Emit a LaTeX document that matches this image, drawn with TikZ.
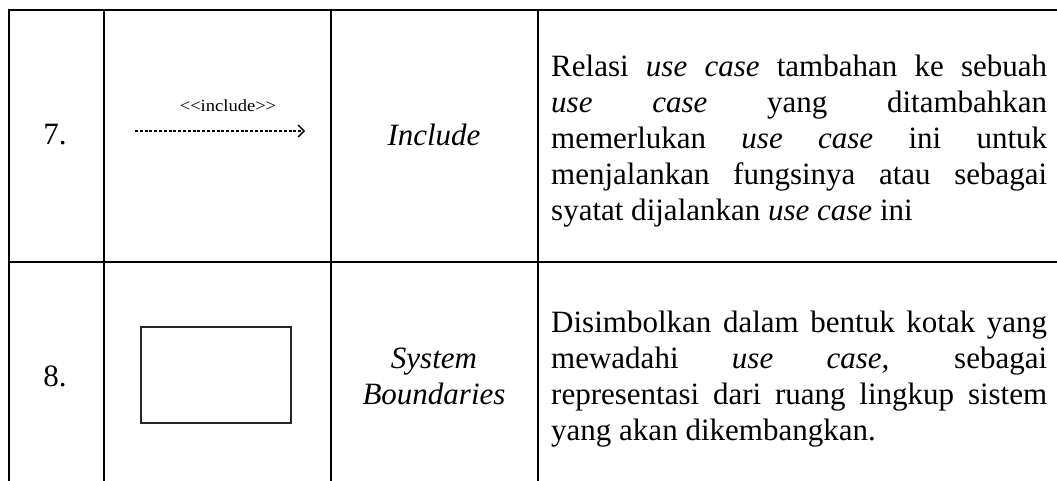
\documentclass[tikz,border=0pt]{standalone}
\usepackage{fontspec}
\setmainfont{Liberation Serif}
\newfontfamily\stereofont[Ligatures=TeXOff]{Liberation Serif}
\usetikzlibrary{arrows.meta}
\hyphenpenalty=10000
\begin{document}
\begin{tikzpicture}[x=1pt,y=-1pt,
  rule/.style={line width=2pt, black},
  cell/.style={anchor=base, inner sep=0pt, font=\fontsize{31}{36}\selectfont},
  body/.style={anchor=base west, inner sep=0pt, text width=496pt, align=justify,
               font=\fontsize{31}{36}\selectfont},
  depline/.style={line width=1.3pt, dash pattern=on 3pt off 1.8pt,
                  -{Straight Barb[length=6pt,width=12pt,line width=1.3pt]}},
  stereo/.style={anchor=base, inner sep=0pt, font=\stereofont\fontsize{17}{19}\selectfont},
  boundary/.style={draw=black!85, line width=1.3pt, minimum width=150pt,
                   minimum height=96pt, inner sep=0pt}
]
\useasboundingbox (0,0) rectangle (1057,481);

% table rules
\draw[rule] (8,10) -- (1057,10);
\draw[rule] (8,262) -- (1057,262);
\foreach \x in {9,104,331,538} \draw[rule] (\x,9) -- (\x,481);

% row 7
\node[cell] (no7) at (55,145) {7.};
\coordinate (incfrom) at (135,131);
\coordinate (incto) at (305,131);
\draw[depline] (incfrom) -- (incto);
\node[stereo] (inclabel) at (228,112) {\scalebox{1.09}[1]{<<include>>}};
\node[cell] (name7) at (434,146) {\itshape Include};
\node[body] (desc7) at (551,77) {Relasi \emph{use case} tambahan ke sebuah\linebreak
  \emph{use case} yang ditambahkan\linebreak
  memerlukan \emph{use case} ini untuk\linebreak
  menjalankan fungsinya atau sebagai\linebreak
  syatat dijalankan \emph{use case} ini};

% row 8
\node[cell] (no8) at (55,386) {8.};
\node[boundary] (sysbox) at (216,375) {};
\node[cell] (name8a) at (434,368) {\itshape System};
\node[cell] (name8b) at (434,404) {\itshape Boundaries};
\node[body] (desc8) at (551,332) {Disimbolkan dalam bentuk kotak yang\linebreak
  mewadahi \emph{use case}, sebagai\linebreak
  representasi dari ruang lingkup sistem\linebreak
  yang akan dikembangkan.};
\end{tikzpicture}
\end{document}
